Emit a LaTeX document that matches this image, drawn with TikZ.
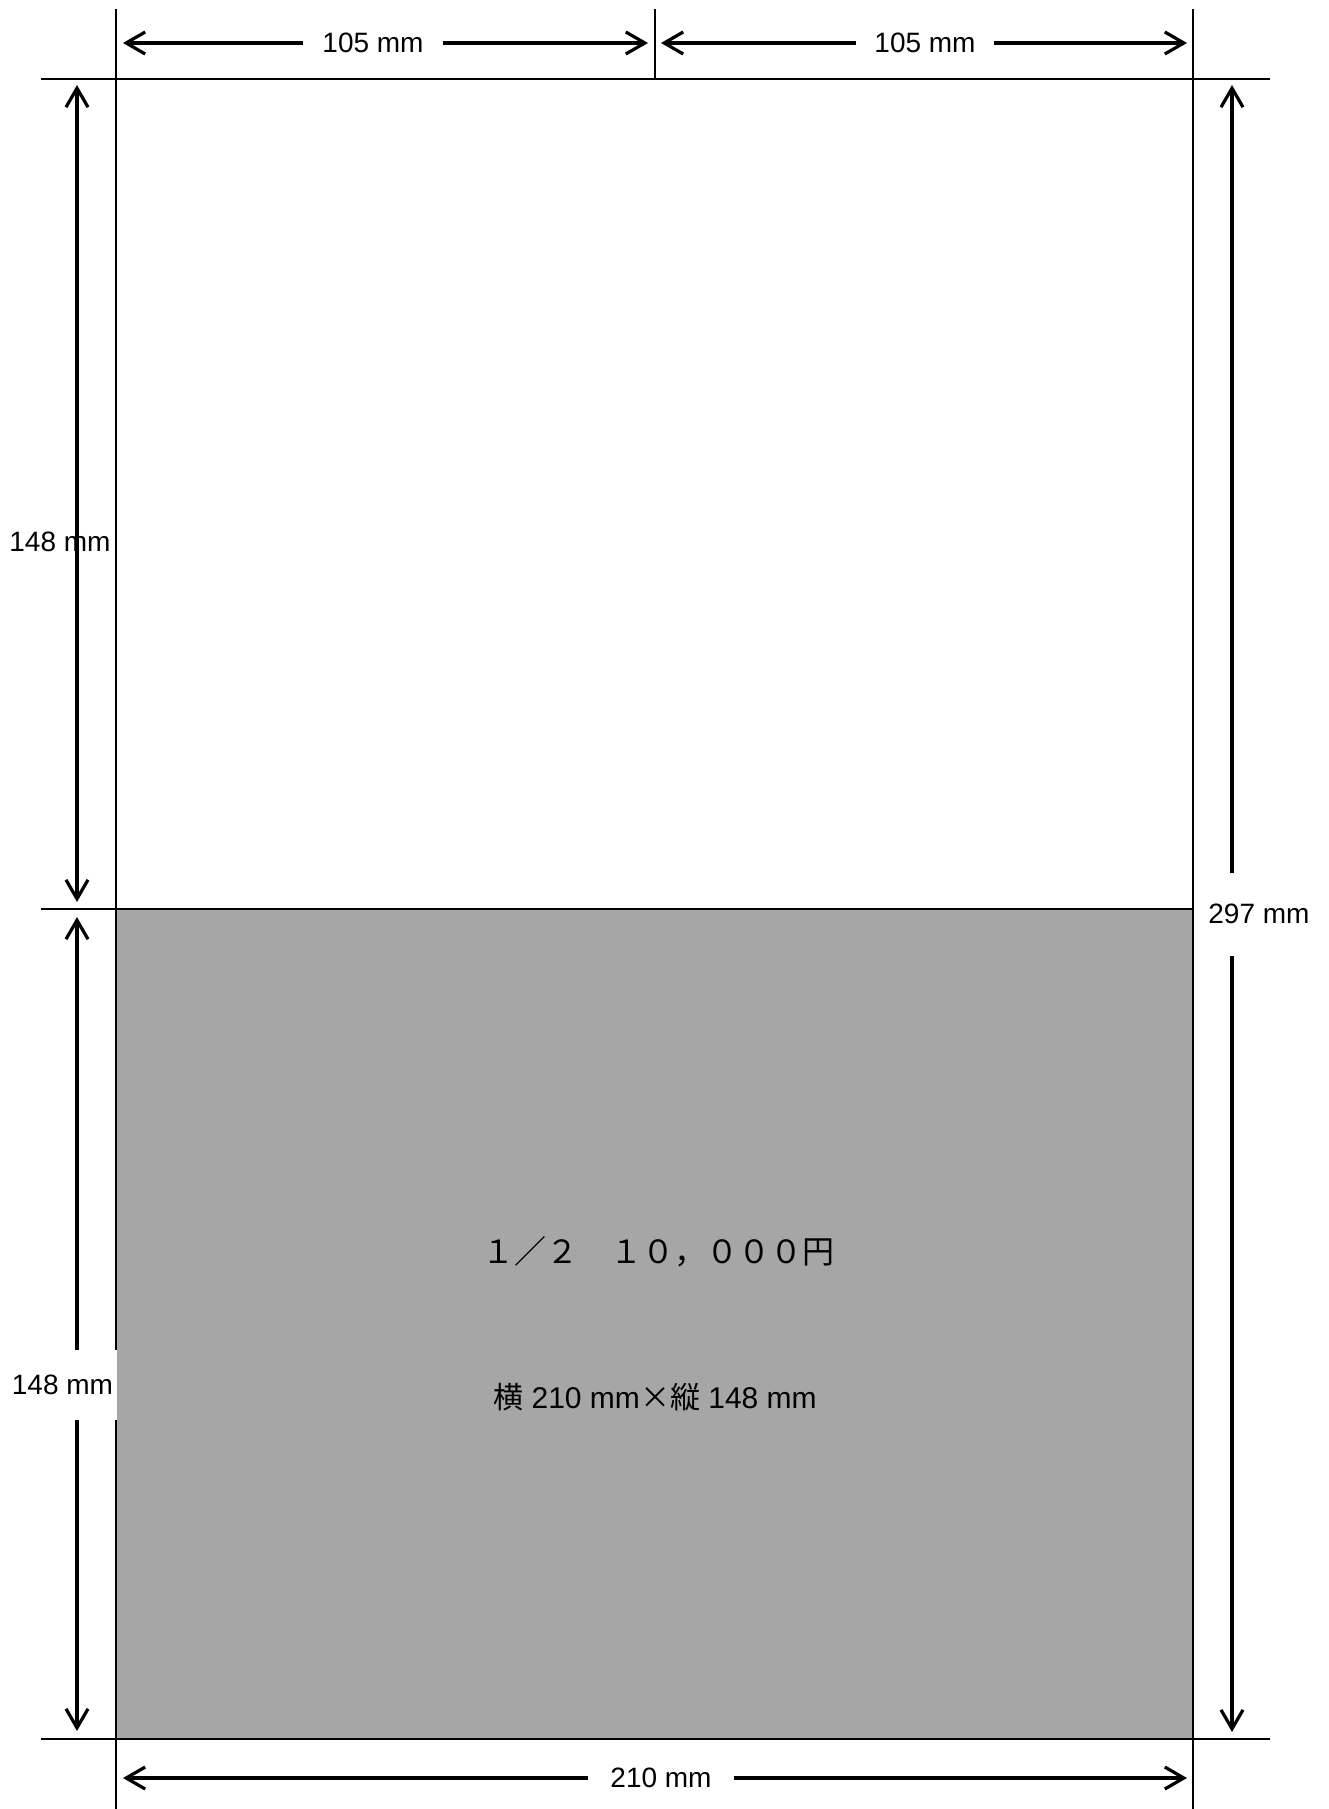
\documentclass[tikz,border=0pt]{standalone}
\usepackage{fontspec}
\setmainfont{Liberation Sans}
\newfontfamily\jpfont{Noto Sans CJK JP}
\usetikzlibrary{arrows.meta}
\definecolor{paneGray}{RGB}{166,166,166}
\tikzset{
  frameline/.style={line width=0.9pt, black},
  dimarrow/.style={line width=1.6pt, black,
    {Straight Barb[length=9.5pt,width=11pt]}-{Straight Barb[length=9.5pt,width=11pt]}},
  dimlabel/.style={font=\fontsize{14}{16}\selectfont, inner sep=0pt, text=black},
  gapbox/.style={dimlabel, fill=white},
  jptext/.style={font=\fontsize{16}{19}\selectfont\jpfont, inner sep=0pt},
  sizetext/.style={font=\fontsize{15}{17}\selectfont, inner sep=0pt}
}
\begin{document}
\begin{tikzpicture}[x=0.5pt,y=-0.5pt]
\useasboundingbox[fill=white] (0,0) rectangle (1328,1809);

% half-page gray area
\fill[paneGray] (116,909) rectangle (1193,1739);

% frame coordinates
\coordinate (topL) at (41,79);
\coordinate (topR) at (1270,79);
\coordinate (midL) at (41,909);
\coordinate (midR) at (1193,909);
\coordinate (botL) at (41,1739);
\coordinate (botR) at (1270,1739);
\coordinate (vlT) at (116,9);
\coordinate (vlB) at (116,1809);
\coordinate (vrT) at (1193,9);
\coordinate (vrB) at (1193,1809);
\coordinate (vmT) at (655,9);
\coordinate (vmB) at (655,79);

\draw[frameline] (topL) -- (topR);
\draw[frameline] (midL) -- (midR);
\draw[frameline] (botL) -- (botR);
\draw[frameline] (vlT) -- (vlB);
\draw[frameline] (vrT) -- (vrB);
\draw[frameline] (vmT) -- (vmB);

% dimension arrow end points
\coordinate (a1s) at (123,43);  \coordinate (a1e) at (648,43);
\coordinate (a2s) at (661,43);  \coordinate (a2e) at (1187,43);
\coordinate (a3s) at (123,1778); \coordinate (a3e) at (1187,1778);
\coordinate (a4s) at (77,85);   \coordinate (a4e) at (77,902);
\coordinate (a5s) at (77,917);  \coordinate (a5e) at (77,1731);
\coordinate (a6s) at (1232,85); \coordinate (a6e) at (1232,1732);

\draw[dimarrow] (a1s) -- (a1e);
\draw[dimarrow] (a2s) -- (a2e);
\draw[dimarrow] (a3s) -- (a3e);
\draw[dimarrow] (a4s) -- (a4e);
\draw[dimarrow] (a5s) -- (a5e);
\draw[dimarrow] (a6s) -- (a6e);

% dimension labels
\node[gapbox, minimum width=70pt, minimum height=14pt] (l105a) at (373,43) {105 mm};
\node[gapbox, minimum width=69pt, minimum height=14pt] (l105b) at (925,43) {105 mm};
\node[gapbox, minimum width=73pt, minimum height=14pt] (l210) at (661,1778) {210 mm};
\node[gapbox, anchor=west, inner xsep=1pt, minimum height=41.5pt] (l297) at (1206,914) {297 mm};
\node[dimlabel] (l148a) at (60,542) {148 mm};
\node[gapbox, minimum width=58.5pt, minimum height=35pt] (l148b) at (58.5,1385) {\hspace*{4pt}148 mm};

% texts in the gray area
\node[jptext] (price) at (658,1252) {１／２　１０，０００円};
\node[sizetext] (size) at (655,1397) {{\jpfont 横}~210~mm{\jpfont ×縦}~148~mm};
\end{tikzpicture}
\end{document}
